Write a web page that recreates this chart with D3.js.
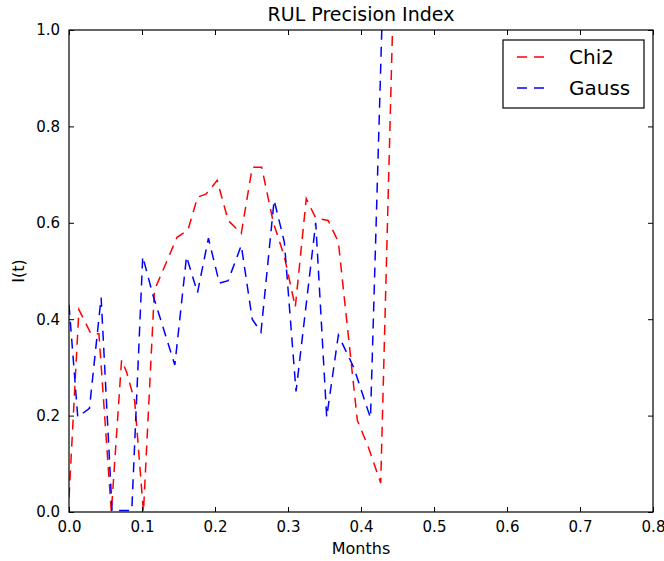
<!DOCTYPE html>
<html>
<head>
<meta charset="utf-8">
<script src="https://cdn.jsdelivr.net/npm/d3@7"></script>
<style>
  body { margin: 0; background: #fff; }
  svg { font-family: "DejaVu Sans", sans-serif; }
</style>
</head>
<body>
<svg id="chart" width="664" height="561"></svg>
<script>
'use strict'

// series (months, I(t))
const chiX = [0, 0.0136, 0.03, 0.041, 0.058, 0.072, 0.079, 0.09, 0.102, 0.117, 0.148, 0.163, 0.176, 0.188, 0.203, 0.218, 0.236, 0.251, 0.264, 0.28, 0.295, 0.31, 0.325, 0.338, 0.355, 0.369, 0.395, 0.41, 0.427, 0.45]
const chiY = [0.03, 0.42, 0.37, 0.37, 0.0, 0.315, 0.29, 0.23, 0.0, 0.46, 0.57, 0.585, 0.653, 0.66, 0.688, 0.605, 0.578, 0.715, 0.715, 0.6, 0.53, 0.425, 0.65, 0.61, 0.605, 0.56, 0.19, 0.135, 0.06, 1.4]

const gaussX = [0, 0.012, 0.028, 0.044, 0.059, 0.086, 0.101, 0.108, 0.115, 0.145, 0.161, 0.176, 0.191, 0.206, 0.218, 0.236, 0.251, 0.263, 0.281, 0.295, 0.311, 0.338, 0.353, 0.369, 0.39, 0.413, 0.44]
const gaussY = [0.43, 0.197, 0.215, 0.445, 0.003, 0.003, 0.53, 0.49, 0.45, 0.305, 0.53, 0.455, 0.568, 0.475, 0.48, 0.553, 0.40, 0.373, 0.647, 0.56, 0.25, 0.60, 0.197, 0.367, 0.30, 0.195, 1.6]

const seriesNames = ['Chi2', 'Gauss']
const seriesColors = ['red', 'blue']

const xTicks = [0, 0.1, 0.2, 0.3, 0.4, 0.5, 0.6, 0.7, 0.8]
const yTicks = [0, 0.2, 0.4, 0.6, 0.8, 1.0]

const plotLeft = 69
const plotRight = 653
const plotTop = 30
const plotBottom = 512
const dashes = '10,7'

const svg = d3.select('#chart')

const x = d3.scaleLinear().domain([0, 0.8]).range([plotLeft, plotRight])
const y = d3.scaleLinear().domain([0, 1]).range([plotBottom, plotTop])

svg.append('defs').append('clipPath')
    .attr('id', 'plotClip')
    .append('rect')
    .attr('x', plotLeft)
    .attr('y', plotTop)
    .attr('width', plotRight - plotLeft)
    .attr('height', plotBottom - plotTop)

const series = [
    chiX.map((v, i) => [v, chiY[i]]),
    gaussX.map((v, i) => [v, gaussY[i]])
]

const line = d3.line()
    .x(d => x(d[0]))
    .y(d => y(d[1]))

svg.append('g')
    .attr('clip-path', 'url(#plotClip)')
    .selectAll('path')
    .data(series)
    .join('path')
    .attr('d', line)
    .attr('fill', 'none')
    .attr('stroke', (d, i) => seriesColors[i])
    .attr('stroke-width', 1.5)
    .attr('stroke-dasharray', dashes)

// axes, matplotlib classic style: ticks inside on all four sides
const tickLen = 5
const fmt = d3.format('.1f')

const xBottom = svg.append('g')
    .attr('transform', `translate(0,${plotBottom})`)
    .call(d3.axisBottom(x).tickValues(xTicks).tickFormat(fmt).tickSizeInner(-tickLen).tickSizeOuter(0).tickPadding(9))
const xTop = svg.append('g')
    .attr('transform', `translate(0,${plotTop})`)
    .call(d3.axisTop(x).tickValues(xTicks).tickFormat('').tickSizeInner(-tickLen).tickSizeOuter(0))
const yLeft = svg.append('g')
    .attr('transform', `translate(${plotLeft},0)`)
    .call(d3.axisLeft(y).tickValues(yTicks).tickFormat(fmt).tickSizeInner(-tickLen).tickSizeOuter(0).tickPadding(9))
const yRight = svg.append('g')
    .attr('transform', `translate(${plotRight},0)`)
    .call(d3.axisRight(y).tickValues(yTicks).tickFormat('').tickSizeInner(-tickLen).tickSizeOuter(0))

for (const g of [xBottom, xTop, yLeft, yRight]) {
    g.select('.domain').remove()
    g.selectAll('.tick line').attr('stroke', '#000')
    g.selectAll('.tick text')
        .attr('fill', '#000')
        .attr('font-size', 15)
        .attr('font-family', '"DejaVu Sans", sans-serif')
}

svg.append('rect')
    .attr('x', plotLeft)
    .attr('y', plotTop)
    .attr('width', plotRight - plotLeft)
    .attr('height', plotBottom - plotTop)
    .attr('fill', 'none')
    .attr('stroke', '#000')
    .attr('stroke-width', 1.2)

svg.append('text')
    .attr('x', (plotLeft + plotRight) / 2)
    .attr('y', 21)
    .attr('text-anchor', 'middle')
    .attr('font-size', 19)
    .text('RUL Precision Index')

svg.append('text')
    .attr('x', (plotLeft + plotRight) / 2)
    .attr('y', 554)
    .attr('text-anchor', 'middle')
    .attr('font-size', 16)
    .text('Months')

svg.append('text')
    .attr('transform', `translate(24,${(plotTop + plotBottom) / 2}) rotate(-90)`)
    .attr('text-anchor', 'middle')
    .attr('font-size', 16)
    .text('I(t)')

// legend
const legend = svg.append('g')
legend.append('rect')
    .attr('x', 503)
    .attr('y', 40)
    .attr('width', 141)
    .attr('height', 68)
    .attr('fill', '#fff')
    .attr('stroke', '#000')
    .attr('stroke-width', 1.2)

const items = legend.selectAll('g.item')
    .data(seriesNames)
    .join('g')
    .attr('class', 'item')
    .attr('transform', (d, i) => `translate(0,${57 + i * 31})`)

items.append('line')
    .attr('x1', 517)
    .attr('x2', 544)
    .attr('stroke', (d, i) => seriesColors[i])
    .attr('stroke-width', 1.5)
    .attr('stroke-dasharray', dashes)

items.append('text')
    .attr('x', 569)
    .attr('dy', '0.36em')
    .attr('font-size', 20)
    .text(d => d)
</script>
</body>
</html>
